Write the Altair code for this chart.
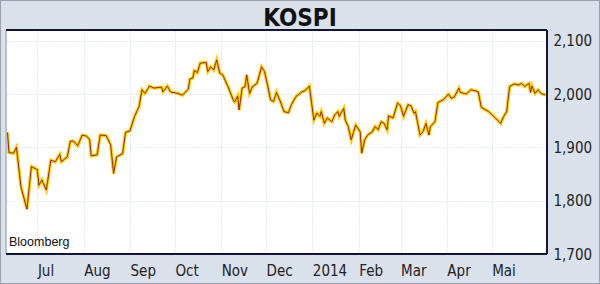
import altair as alt
import pandas as pd

dates = [
    "2013-06-11", "2013-06-12", "2013-06-15", "2013-06-17", "2013-06-20", "2013-06-24", "2013-06-27",
    "2013-07-01", "2013-07-02", "2013-07-04", "2013-07-07", "2013-07-10", "2013-07-13", "2013-07-16",
    "2013-07-17", "2013-07-21", "2013-07-23", "2013-07-25", "2013-07-28", "2013-07-31",
    "2013-08-03", "2013-08-05", "2013-08-06", "2013-08-10", "2013-08-12", "2013-08-16", "2013-08-19",
    "2013-08-21", "2013-08-23", "2013-08-27", "2013-08-29",
    "2013-09-01", "2013-09-04", "2013-09-07", "2013-09-09", "2013-09-11", "2013-09-14", "2013-09-17",
    "2013-09-22", "2013-09-23", "2013-09-26", "2013-09-28",
    "2013-10-03", "2013-10-06", "2013-10-10", "2013-10-11", "2013-10-13", "2013-10-14", "2013-10-16",
    "2013-10-18", "2013-10-22", "2013-10-23", "2013-10-25", "2013-10-27", "2013-10-29", "2013-10-31",
    "2013-11-02", "2013-11-06", "2013-11-09", "2013-11-10", "2013-11-12", "2013-11-13", "2013-11-15",
    "2013-11-17", "2013-11-18", "2013-11-20", "2013-11-22", "2013-11-25", "2013-11-28", "2013-11-30",
    "2013-12-02", "2013-12-04", "2013-12-06", "2013-12-08", "2013-12-11", "2013-12-13", "2013-12-16",
    "2013-12-18", "2013-12-21", "2013-12-25", "2013-12-27", "2013-12-30",
    "2014-01-02", "2014-01-04", "2014-01-06", "2014-01-07", "2014-01-09", "2014-01-11", "2014-01-14",
    "2014-01-16", "2014-01-18", "2014-01-19", "2014-01-22", "2014-01-23", "2014-01-25", "2014-01-27",
    "2014-01-30",
    "2014-02-02", "2014-02-03", "2014-02-05", "2014-02-07", "2014-02-10", "2014-02-12", "2014-02-14",
    "2014-02-16", "2014-02-18", "2014-02-20", "2014-02-21", "2014-02-24", "2014-02-27",
    "2014-03-01", "2014-03-03", "2014-03-06", "2014-03-08", "2014-03-10", "2014-03-11", "2014-03-14",
    "2014-03-16", "2014-03-18", "2014-03-20", "2014-03-21", "2014-03-24", "2014-03-26", "2014-03-30",
    "2014-04-02", "2014-04-04", "2014-04-06", "2014-04-09", "2014-04-10", "2014-04-14", "2014-04-17",
    "2014-04-20", "2014-04-22", "2014-04-24", "2014-04-29",
    "2014-05-02", "2014-05-06", "2014-05-07", "2014-05-09", "2014-05-11", "2014-05-13", "2014-05-16",
    "2014-05-19", "2014-05-21", "2014-05-23", "2014-05-26", "2014-05-27", "2014-05-28", "2014-05-30",
    "2014-06-01", "2014-06-03", "2014-06-06",
]

kospi = [
    1928, 1890, 1889, 1900, 1826, 1784, 1864,
    1858, 1829, 1839, 1820, 1876, 1873, 1887,
    1873, 1882, 1911, 1912, 1903, 1923,
    1921, 1914, 1884, 1886, 1923, 1922, 1905,
    1851, 1882, 1888, 1928,
    1931, 1958, 1976, 2008, 2001, 2015, 2011,
    2013, 2004, 2015, 2004,
    2001, 1998, 2009, 2028, 2030, 2044, 2040,
    2058, 2059, 2042, 2051, 2045, 2064, 2039,
    2036, 2011, 1989, 1985, 1996, 1970, 2011,
    2014, 2036, 2001, 2014, 2020, 2051, 2042,
    2017, 1989, 1986, 2003, 1983, 1967, 1965,
    1980, 1995, 2004, 2006, 2015,
    1951, 1964, 1958, 1967, 1945, 1955, 1948,
    1961, 1967, 1958, 1973, 1951, 1939, 1914,
    1942,
    1929, 1889, 1914, 1923, 1929, 1939, 1933,
    1948, 1945, 1933, 1959, 1955, 1983,
    1978, 1958, 1980, 1978, 1964, 1967, 1923,
    1929, 1945, 1923, 1939, 1948, 1984, 1990,
    2000, 1992, 1994, 2011, 2003, 2000, 2008,
    2006, 2004, 1975, 1967,
    1959, 1948, 1945, 1958, 1967, 2014, 2019,
    2017, 2020, 2014, 2020, 2003, 2015, 2001,
    2008, 2001, 1998,
]

month_starts = ["2013-07-01", "2013-08-01", "2013-09-01", "2013-10-01", "2013-11-01", "2013-12-01",
                "2014-01-01", "2014-02-01", "2014-03-01", "2014-04-01", "2014-05-01"]
month_labels = ["Jul", "Aug", "Sep", "Oct", "Nov", "Dec", "2014", "Feb", "Mar", "Apr", "Mai"]
y_ticks = [1700, 1800, 1900, 2000, 2100]
title_text = "KOSPI"
source_text = "Bloomberg"

FONT = "'Liberation Sans Narrow', 'DejaVu Sans Condensed', 'Liberation Sans', sans-serif"
FONT_REG = "'Liberation Sans', 'DejaVu Sans', sans-serif"

df = pd.DataFrame({"date": dates, "value": kospi})


def to_dt(s):
    y, m, d = (int(p) for p in s.split("-"))
    return alt.DateTime(year=y, month=m, date=d, utc=True)


label_list = "[" + ",".join("'" + l + "'" for l in month_labels) + "]"
label_expr = f"{label_list}[(utcyear(datum.value)-2013)*12 + utcmonth(datum.value) - 6]"

x_enc = alt.X(
    "date:T",
    scale=alt.Scale(type="utc", domain=[to_dt("2013-06-10"), to_dt("2014-06-07")]),
    axis=alt.Axis(
        values=[to_dt(s) for s in month_starts],
        labelExpr=label_expr,
        title=None,
        domain=False,
        ticks=False,
        labelAlign="left",
        labelBaseline="top",
        labelPadding=9,
        labelFont=FONT,
        labelFontSize=15,
        labelColor="#222222",
        grid=True,
        gridColor="#c9d6e4",
        gridDash=[1, 2],
        labelOverlap=False,
    ),
)
y_enc = alt.Y(
    "value:Q",
    scale=alt.Scale(domain=[1700, 2120], nice=False, zero=False),
    axis=alt.Axis(
        orient="right",
        values=y_ticks,
        format=",d",
        title=None,
        domain=False,
        ticks=False,
        labelPadding=6,
        labelAlign="left",
        labelFont=FONT,
        labelFontSize=15,
        labelColor="#222222",
        grid=True,
        gridColor="#c9d6e4",
        gridDash=[1, 2],
    ),
)

base = alt.Chart(df)
halo = base.mark_line(color="#ffcc00", strokeWidth=3.2, interpolate="linear").encode(x=x_enc, y=y_enc)
core = base.mark_line(color="#8a1c00", strokeWidth=0.9, interpolate="linear").encode(x="date:T", y="value:Q")

frame_top = alt.Chart(df).mark_rule(color="#14143a", strokeWidth=1.5).encode(
    x=alt.value(0), x2=alt.value(541), y=alt.value(0))
frame_bottom = alt.Chart(df).mark_rule(color="#14143a", strokeWidth=1.5).encode(
    x=alt.value(0), x2=alt.value(541), y=alt.value(224))
frame_right = alt.Chart(df).mark_rule(color="#14143a", strokeWidth=1.5).encode(
    x=alt.value(541), y=alt.value(0), y2=alt.value(224))
frame_left = alt.Chart(df).mark_rule(color="#b8c0c8", strokeWidth=1).encode(
    x=alt.value(0), y=alt.value(0), y2=alt.value(224))

outer = alt.Chart(df).mark_rect(fill=None, stroke="#9aa3ad", strokeWidth=1).encode(
    x=alt.value(-5.5), x2=alt.value(593.5), y=alt.value(-29.5), y2=alt.value(253.5))

title = alt.Chart(pd.DataFrame({"t": [title_text]})).mark_text(
    font=FONT, fontWeight="bold", fontSize=24, color="#111111",
    align="center", baseline="alphabetic").encode(text="t:N", x=alt.value(294), y=alt.value(-4))

source = alt.Chart(pd.DataFrame({"t": [source_text]})).mark_text(
    font=FONT_REG, fontSize=12.5, color="#111111",
    align="left", baseline="alphabetic").encode(text="t:N", x=alt.value(3), y=alt.value(216))

chart = alt.layer(
    halo, core, frame_left, frame_top, frame_bottom, frame_right, outer, title, source
).properties(
    width=541,
    height=224,
    autosize=alt.AutoSizeParams(type="none"),
    padding={"left": 6, "top": 30, "right": 53, "bottom": 30},
    background="#d9e1eb",
).configure_view(
    fill="#ffffff",
    stroke=None,
)

chart.save("out.html", embed_options={"renderer": "svg", "actions": False})
